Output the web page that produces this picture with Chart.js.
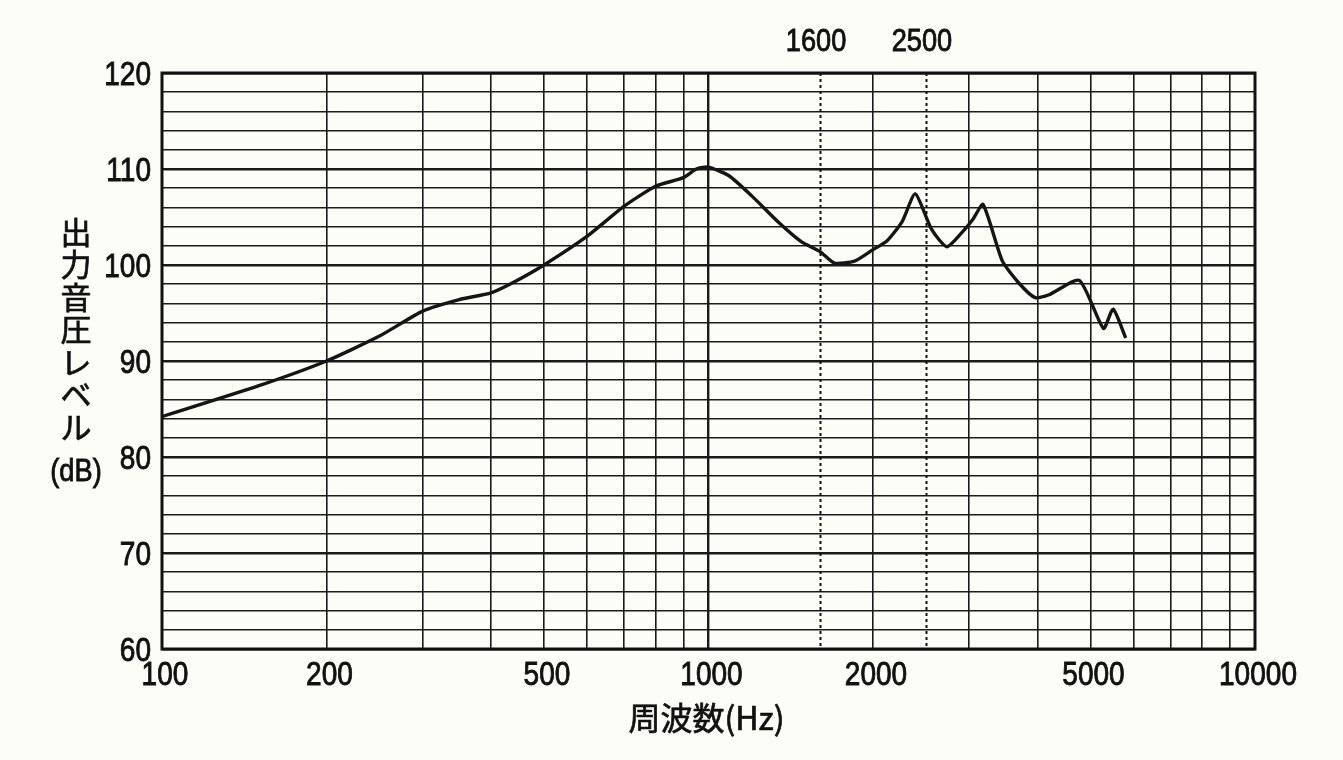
<!DOCTYPE html>
<html>
<head>
<meta charset="utf-8">
<script src="https://cdn.jsdelivr.net/npm/chart.js@4/dist/chart.umd.min.js"></script>
<style>
  html, body { margin: 0; padding: 0; background: #fdfdf8; }
  canvas { display: block; }
</style>
</head>
<body>
<canvas id="freqChart" width="1343" height="760"></canvas>
<script>
// frequency response
const freqs = [100, 150, 200, 250, 300, 350, 400, 440, 500, 600, 700, 800, 900, 950, 1000,
               1090, 1200, 1340, 1480, 1600, 1700, 1850, 2000, 2120, 2260, 2390, 2560, 2730,
               2910, 3050, 3180, 3450, 3700, 3960, 4200, 4770, 5280, 5500, 5800];
const levels = [84.2, 87.4, 90, 92.6, 95.2, 96.4, 97.1, 98.2, 100, 103, 106.1, 108.2, 109.1, 110, 110.2,
                109.3, 107.2, 104.5, 102.4, 101.4, 100.2, 100.4, 101.6, 102.5, 104.5, 107.4, 103.7, 101.9,
                103.4, 104.8, 106.3, 100.4, 98.1, 96.6, 96.9, 98.4, 93.4, 95.4, 92.4];

const gridFreqs = [100, 200, 300, 400, 500, 600, 700, 800, 900, 1000,
                   2000, 3000, 4000, 5000, 6000, 7000, 8000, 9000, 10000];
const xTickLabels = [100, 200, 500, 1000, 2000, 5000, 10000];
const markerFreqs = [1600, 2500];
const yTickLabels = [60, 70, 80, 90, 100, 110, 120];

const yTitle = ['出', '力', '音', '圧', 'レ', 'ベ', 'ル'];
const yUnit = '(dB)';
const xTitle = '周波数(Hz)';

const numFont = "'Liberation Sans', Arial, sans-serif";
const jpFont = "'Noto Sans CJK JP', sans-serif";

// condensed, slightly heavy numerals like the printed sheet
function drawNum(ctx, text, x, y, align, size) {
    ctx.save();
    ctx.translate(x, y);
    ctx.scale(0.85, 1);
    ctx.font = size + 'px ' + numFont;
    ctx.textAlign = align;
    ctx.textBaseline = 'middle';
    ctx.lineWidth = 0.9;
    ctx.strokeStyle = '#111';
    ctx.fillText(text, 0, 0);
    ctx.strokeText(text, 0, 0);
    ctx.restore();
}

function drawJp(ctx, text, x, y, size) {
    ctx.font = size + 'px ' + jpFont;
    ctx.lineWidth = 0.7;
    ctx.fillText(text, x, y);
    ctx.strokeText(text, x, y);
}

const decorations = {
    id: 'decorations',
    afterDatasetsDraw(chart) {
        const { ctx, chartArea: a, scales } = chart;
        ctx.save();
        // dotted marker lines
        ctx.strokeStyle = '#111';
        ctx.lineWidth = 2;
        ctx.setLineDash([3, 3]);
        markerFreqs.forEach(f => {
            const px = Math.round(scales.x.getPixelForValue(f)) + 0.5;
            ctx.beginPath();
            ctx.moveTo(px, a.top);
            ctx.lineTo(px, a.bottom);
            ctx.stroke();
        });
        ctx.setLineDash([]);
        // frame
        ctx.lineWidth = 3;
        ctx.strokeRect(a.left, a.top, a.right - a.left, a.bottom - a.top);

        // tick labels
        ctx.fillStyle = '#111';
        yTickLabels.forEach(v => {
            drawNum(ctx, String(v), a.left - 11, scales.y.getPixelForValue(v) + 3, 'right', 33);
        });
        xTickLabels.forEach(v => {
            drawNum(ctx, String(v), scales.x.getPixelForValue(v) + 3, a.bottom + 27, 'center', 33);
        });
        markerFreqs.forEach(v => {
            drawNum(ctx, String(v), scales.x.getPixelForValue(v) - 4, a.top - 31, 'center', 32);
        });

        // axis titles
        ctx.textAlign = 'center';
        ctx.textBaseline = 'middle';
        yTitle.forEach((ch, i) => {
            drawJp(ctx, ch, 76, 232 + i * 32.5, 31);
        });
        drawNum(ctx, yUnit, 76, 472, 'center', 32);
        drawJp(ctx, xTitle, (a.left + a.right) / 2 - 2, 718, 32);
        ctx.restore();
    }
};

new Chart(document.getElementById('freqChart').getContext('2d'), {
    type: 'line',
    data: {
        datasets: [{
            data: freqs.map((f, i) => ({ x: f, y: levels[i] })),
            borderColor: '#151515',
            borderWidth: 3.4,
            pointRadius: 0,
            tension: 0.2,
            fill: false
        }]
    },
    options: {
        responsive: false,
        animation: false,
        layout: { padding: { left: 0, right: 88, top: 0, bottom: 0 } },
        plugins: {
            legend: { display: false },
            tooltip: { enabled: false }
        },
        scales: {
            x: {
                type: 'logarithmic',
                min: 100,
                max: 10000,
                afterBuildTicks: s => { s.ticks = gridFreqs.map(v => ({ value: v })); },
                afterFit: s => { s.height = 111; },
                grid: {
                    color: '#1a1a1a',
                    lineWidth: c => (c.tick && c.tick.value === 1000 ? 2.4 : 1.6),
                    drawTicks: false
                },
                border: { display: false },
                ticks: { display: false }
            },
            x2: {
                type: 'logarithmic',
                position: 'top',
                min: 100,
                max: 10000,
                afterFit: s => { s.height = 73; },
                grid: { display: false },
                border: { display: false },
                ticks: { display: false }
            },
            y: {
                min: 60,
                max: 120,
                afterFit: s => { s.width = 162; },
                grid: {
                    color: '#1a1a1a',
                    lineWidth: c => (c.tick && c.tick.value % 10 === 0 ? 2.6 : 1.5),
                    drawTicks: false
                },
                border: { display: false },
                ticks: { stepSize: 2, display: false }
            }
        }
    },
    plugins: [decorations]
});
</script>
</body>
</html>
